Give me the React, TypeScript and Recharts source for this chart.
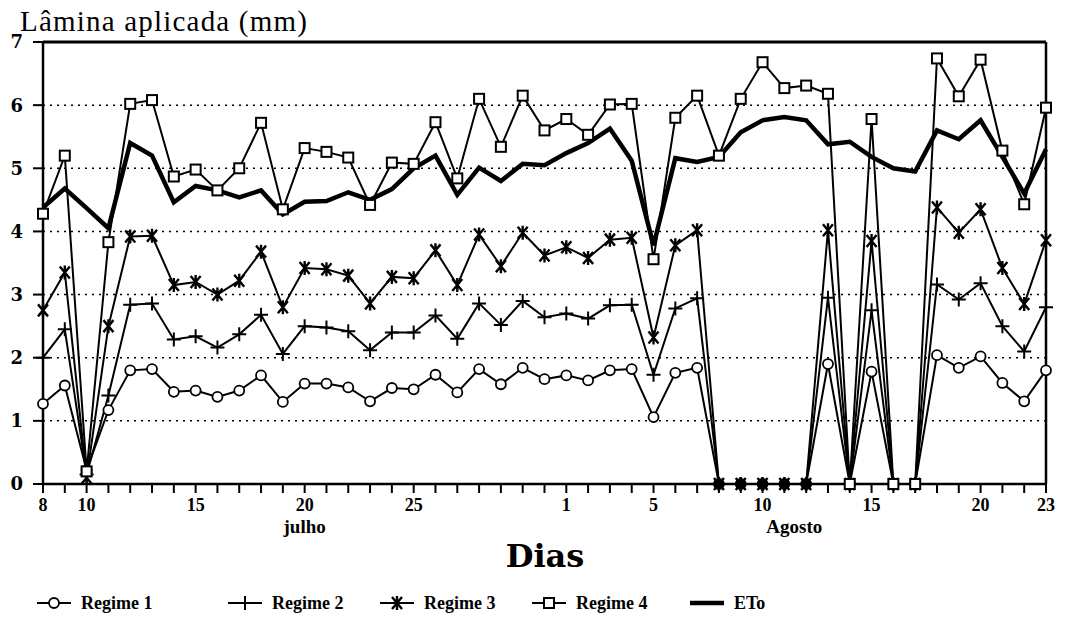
import React from 'react'
import { LineChart, Line, XAxis, YAxis, CartesianGrid, ReferenceLine } from 'recharts'

// Daily irrigation depth (mm) for four regimes plus reference ETo, 8 Jul - 23 Aug.

const days = [
  '07-08', '07-09', '07-10', '07-11', '07-12', '07-13', '07-14', '07-15', '07-16', '07-17',
  '07-18', '07-19', '07-20', '07-21', '07-22', '07-23', '07-24', '07-25', '07-26', '07-27',
  '07-28', '07-29', '07-30', '07-31', '08-01', '08-02', '08-03', '08-04', '08-05', '08-06',
  '08-07', '08-08', '08-09', '08-10', '08-11', '08-12', '08-13', '08-14', '08-15', '08-16',
  '08-17', '08-18', '08-19', '08-20', '08-21', '08-22', '08-23',
]

const regime1 = [
  1.27, 1.56, 0.22, 1.17, 1.8, 1.82, 1.46, 1.48, 1.38, 1.48,
  1.72, 1.3, 1.59, 1.59, 1.53, 1.31, 1.52, 1.5, 1.73, 1.45,
  1.82, 1.58, 1.84, 1.66, 1.72, 1.64, 1.8, 1.82, 1.06, 1.76,
  1.84, 0, 0, 0, 0, 0, 1.9, 0, 1.78, 0,
  0, 2.04, 1.84, 2.02, 1.6, 1.31, 1.8,
]

const regime2 = [
  2.0, 2.45, 0.15, 1.4, 2.84, 2.86, 2.29, 2.34, 2.16, 2.37,
  2.68, 2.06, 2.5, 2.48, 2.42, 2.12, 2.4, 2.4, 2.67, 2.3,
  2.86, 2.52, 2.9, 2.64, 2.7, 2.62, 2.83, 2.84, 1.73, 2.78,
  2.94, 0, 0, 0, 0, 0, 2.95, 0, 2.75, 0,
  0, 3.16, 2.92, 3.18, 2.5, 2.1, 2.8,
]

const regime3 = [
  2.75, 3.35, 0.1, 2.5, 3.92, 3.93, 3.15, 3.2, 3.0, 3.22,
  3.68, 2.8, 3.42, 3.4, 3.3, 2.86, 3.28, 3.26, 3.7, 3.15,
  3.95, 3.45, 3.98, 3.62, 3.75, 3.58, 3.87, 3.9, 2.32, 3.78,
  4.02, 0, 0, 0, 0, 0, 4.02, 0, 3.85, 0,
  0, 4.38, 3.98, 4.35, 3.42, 2.85, 3.86,
]

const regime4 = [
  4.28, 5.2, 0.2, 3.83, 6.02, 6.08, 4.87, 4.98, 4.65, 5.0,
  5.72, 4.35, 5.32, 5.26, 5.17, 4.42, 5.09, 5.07, 5.73, 4.84,
  6.1, 5.34, 6.15, 5.6, 5.78, 5.53, 6.01, 6.02, 3.56, 5.8,
  6.15, 5.2, 6.1, 6.68, 6.27, 6.31, 6.18, 0, 5.78, 0,
  0, 6.74, 6.14, 6.72, 5.28, 4.43, 5.96,
]

const eto = [
  4.38, 4.68, 4.37, 4.05, 5.4, 5.2, 4.46, 4.72, 4.65, 4.54,
  4.65, 4.27, 4.47, 4.48, 4.62, 4.5, 4.67, 5.0, 5.2, 4.58,
  5.01, 4.8, 5.07, 5.05, 5.24, 5.4, 5.63, 5.12, 3.78, 5.16,
  5.1, 5.18, 5.57, 5.76, 5.81, 5.76, 5.38, 5.42, 5.18, 5.0,
  4.95, 5.6, 5.46, 5.76, 5.18, 4.6, 5.3,
]

const labeledDays = ['07-08', '07-10', '07-15', '07-20', '07-25', '08-01', '08-05', '08-10', '08-15', '08-20', '08-23']
const monthNames = ['julho', 'Agosto']
const monthDays = ['07-20', '08-11']
const yTicks = [0, 1, 2, 3, 4, 5, 6, 7]

const data = days.map((day, i) => ({
  day,
  r1: regime1[i],
  r2: regime2[i],
  r3: regime3[i],
  r4: regime4[i],
  eto: eto[i],
}))

const INK = '#000'

function CircleMark({ cx, cy, value }: any) {
  if (cx == null || cy == null) return null
  return <circle cx={cx} cy={cy} r={5} fill={value === 0 ? INK : '#fff'} stroke={INK} strokeWidth={1.8} />
}

function PlusMark({ cx, cy }: any) {
  if (cx == null || cy == null) return null
  return (
    <path d={`M${cx - 7},${cy}H${cx + 7}M${cx},${cy - 7}V${cy + 7}`} stroke={INK} strokeWidth={2} fill="none" />
  )
}

function StarMark({ cx, cy }: any) {
  if (cx == null || cy == null) return null
  return (
    <path
      d={`M${cx - 5},${cy - 6}L${cx + 5},${cy + 6}M${cx + 5},${cy - 6}L${cx - 5},${cy + 6}M${cx},${cy - 7}V${cy + 7}`}
      stroke={INK}
      strokeWidth={2.4}
      fill="none"
    />
  )
}

function SquareMark({ cx, cy }: any) {
  if (cx == null || cy == null) return null
  return <rect x={cx - 5} y={cy - 5} width={10} height={10} fill="#fff" stroke={INK} strokeWidth={2} />
}

function DayTick({ x, y, payload }: any) {
  const v = payload.value as string
  const label = labeledDays.includes(v) ? String(Number(v.slice(3))) : ''
  const m = monthDays.indexOf(v)
  return (
    <g>
      {label && (
        <text x={x} y={y} dy="0.71em" textAnchor="middle" fontFamily="Liberation Serif" fontWeight="bold" fontSize={18} fill={INK}>
          {label}
        </text>
      )}
      {m >= 0 && (
        <text
          x={x + (m === 1 ? 10 : 0)}
          y={y + 22}
          dy="0.71em"
          textAnchor="middle"
          fontFamily="Liberation Serif"
          fontWeight="bold"
          fontSize={19}
          fill={INK}
        >
          {monthNames[m]}
        </text>
      )}
    </g>
  )
}

const legendItems = [
  { name: 'Regime 1', Mark: CircleMark },
  { name: 'Regime 2', Mark: PlusMark },
  { name: 'Regime 3', Mark: StarMark },
  { name: 'Regime 4', Mark: SquareMark },
  { name: 'ETo', Mark: null },
]
const legendWidths = [191, 152, 152, 158, 90]

export default function App() {
  return (
    <div style={{ position: 'fixed', left: 0, top: 0, width: 1074, height: 635, background: '#fff', fontFamily: 'Liberation Serif' }}>
      <div style={{ position: 'absolute', left: 20, top: 5, fontSize: 29, lineHeight: '32px', letterSpacing: 1.2, color: INK }}>
        Lâmina aplicada (mm)
      </div>
      <LineChart width={1074} height={560} data={data} margin={{ top: 42, right: 28, left: 12, bottom: 0 }}>
        <CartesianGrid vertical={false} stroke={INK} strokeDasharray="2 5" strokeWidth={1.5} />
        <XAxis
          dataKey="day"
          interval={0}
          height={76}
          tickSize={9}
          tickMargin={5}
          tick={<DayTick />}
          tickLine={{ stroke: INK, strokeWidth: 2 }}
          axisLine={{ stroke: INK, strokeWidth: 2.5 }}
        />
        <YAxis
          domain={[0, 7]}
          ticks={yTicks}
          width={31}
          tickSize={10}
          tickMargin={10}
          tick={{ fill: INK, fontFamily: 'DejaVu Serif', fontWeight: 'bold', fontSize: 18 }}
          tickLine={{ stroke: INK, strokeWidth: 2 }}
          axisLine={{ stroke: INK, strokeWidth: 2.5 }}
        />
        <ReferenceLine y={7} stroke={INK} strokeWidth={3} />
        <ReferenceLine x="08-23" stroke={INK} strokeWidth={2.5} />
        <Line dataKey="eto" type="linear" stroke={INK} strokeWidth={4.5} dot={false} isAnimationActive={false} />
        <Line
          dataKey="r1"
          type="linear"
          stroke={INK}
          strokeWidth={2}
          dot={(p: any) => <CircleMark key={`r1-${p.index}`} {...p} />}
          isAnimationActive={false}
        />
        <Line
          dataKey="r2"
          type="linear"
          stroke={INK}
          strokeWidth={2}
          dot={(p: any) => <PlusMark key={`r2-${p.index}`} {...p} />}
          isAnimationActive={false}
        />
        <Line
          dataKey="r3"
          type="linear"
          stroke={INK}
          strokeWidth={2}
          dot={(p: any) => <StarMark key={`r3-${p.index}`} {...p} />}
          isAnimationActive={false}
        />
        <Line
          dataKey="r4"
          type="linear"
          stroke={INK}
          strokeWidth={2}
          dot={(p: any) => <SquareMark key={`r4-${p.index}`} {...p} />}
          isAnimationActive={false}
        />
      </LineChart>
      <div
        style={{
          position: 'absolute',
          left: 445,
          width: 200,
          top: 538,
          textAlign: 'center',
          fontFamily: 'DejaVu Serif',
          fontWeight: 'bold',
          fontSize: 32,
          lineHeight: '36px',
          color: INK,
        }}
      >
        Dias
      </div>
      <div style={{ position: 'absolute', left: 36, top: 591, display: 'flex', color: INK }}>
        {legendItems.map(({ name, Mark }, i) => (
          <div key={name} style={{ width: legendWidths[i], display: 'flex', alignItems: 'center' }}>
            <svg width={36} height={20}>
              <line x1={1} y1={10} x2={35} y2={10} stroke={INK} strokeWidth={Mark ? 2 : 4.5} />
              {Mark && <Mark cx={18} cy={10} value={1} />}
            </svg>
            <span style={{ marginLeft: 9, fontWeight: 'bold', fontSize: 18, lineHeight: '24px' }}>{name}</span>
          </div>
        ))}
      </div>
    </div>
  )
}
